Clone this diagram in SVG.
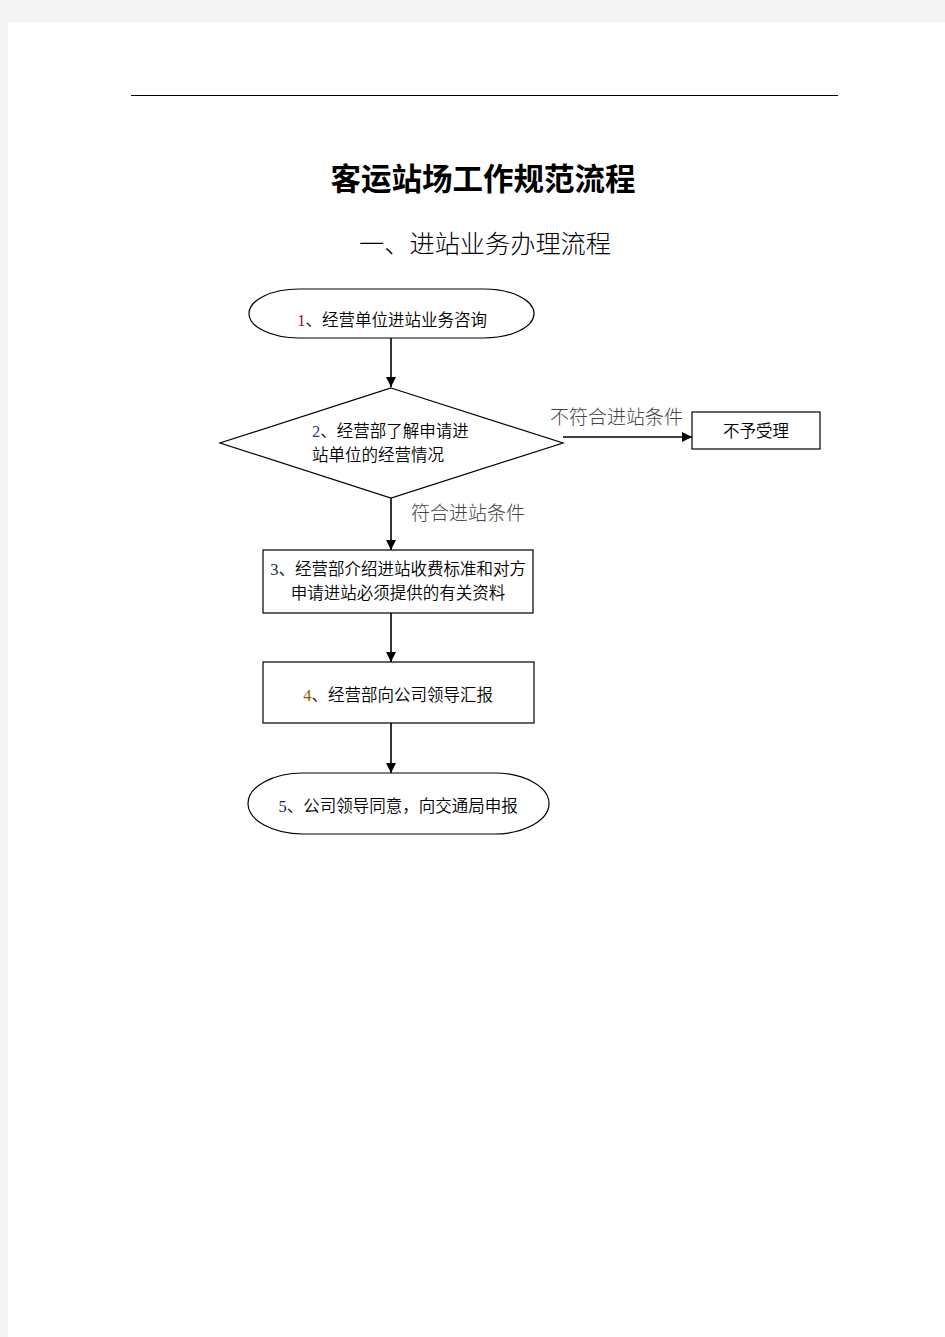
<svg xmlns="http://www.w3.org/2000/svg" width="945" height="1337" viewBox="0 0 945 1337">
<style>
.shape{fill:#fff;stroke:#000;stroke-width:1.2}
.t{font-family:"Noto Sans CJK SC","Noto Sans CJK JP",sans-serif;font-size:16.5px;fill:#000;font-weight:350}
.n{font-family:"Liberation Serif",serif}
.lbl{font-family:"Noto Sans CJK SC","Noto Sans CJK JP",sans-serif;font-size:19px;fill:#444;font-weight:300}
.c{stroke:#000;stroke-width:1.6;fill:none;marker-end:url(#ah)}
</style>
<defs>
<marker id="ah" viewBox="0 0 10 10" refX="10" refY="5" markerWidth="10" markerHeight="10" markerUnits="userSpaceOnUse" orient="auto">
<path d="M0,0 L10,5 L0,10 z" fill="#000"/>
</marker>
</defs>
<rect x="0" y="0" width="945" height="1337" fill="#f4f4f4"/>
<rect x="8" y="22" width="937" height="1315" fill="#fff"/>
<line x1="131" y1="95.5" x2="838" y2="95.5" stroke="#000" stroke-width="1.2"/>
<text x="483" y="190" text-anchor="middle" font-family="'Noto Sans CJK SC','Noto Sans CJK JP',sans-serif" font-size="30.5" font-weight="bold" fill="#000">客运站场工作规范流程</text>
<text x="485" y="253" text-anchor="middle" font-family="'Noto Sans CJK SC','Noto Sans CJK JP',sans-serif" font-size="25.2" font-weight="300" fill="#000">一、进站业务办理流程</text>

<g id="connectors">
<line class="c" x1="391" y1="338" x2="391" y2="387"/>
<line class="c" x1="563" y1="437" x2="692" y2="437"/>
<line class="c" x1="391" y1="498" x2="391" y2="550"/>
<line class="c" x1="391" y1="613" x2="391" y2="662"/>
<line class="c" x1="391" y1="723" x2="391" y2="773"/>
<text class="lbl" x="550" y="424">不符合进站条件</text>
<text class="lbl" x="411" y="520">符合进站条件</text>
</g>

<g id="node1">
<rect class="shape" x="249" y="289" width="285" height="49" rx="50" ry="24.5"/>
<text class="t" x="392" y="326" text-anchor="middle"><tspan class="n" fill="#8b1a1a">1</tspan>、经营单位进站业务咨询</text>
</g>

<g id="node2">
<polygon class="shape" points="391,388 563,443 391,498 220,443"/>
<text class="t" x="312" y="437"><tspan class="n" fill="#2a3f7a">2</tspan>、经营部了解申请进</text>
<text class="t" x="312" y="461">站单位的经营情况</text>
</g>

<g id="node_reject">
<rect class="shape" x="692" y="412" width="128" height="37"/>
<text class="t" x="756" y="437" text-anchor="middle">不予受理</text>
</g>

<g id="node3">
<rect class="shape" x="263" y="550" width="270" height="63"/>
<text class="t" x="398" y="575" text-anchor="middle"><tspan class="n" fill="#1a2a5a">3</tspan>、经营部介绍进站收费标准和对方</text>
<text class="t" x="398" y="599" text-anchor="middle">申请进站必须提供的有关资料</text>
</g>

<g id="node4">
<rect class="shape" x="263" y="662" width="271" height="61"/>
<text class="t" x="398" y="701" text-anchor="middle"><tspan class="n" fill="#8a5a00">4</tspan>、经营部向公司领导汇报</text>
</g>

<g id="node5">
<rect class="shape" x="248" y="773" width="301" height="61" rx="55" ry="30.5"/>
<text class="t" x="398" y="812" text-anchor="middle"><tspan class="n" fill="#1a1a6a">5</tspan>、公司领导同意，向交通局申报</text>
</g>
</svg>
